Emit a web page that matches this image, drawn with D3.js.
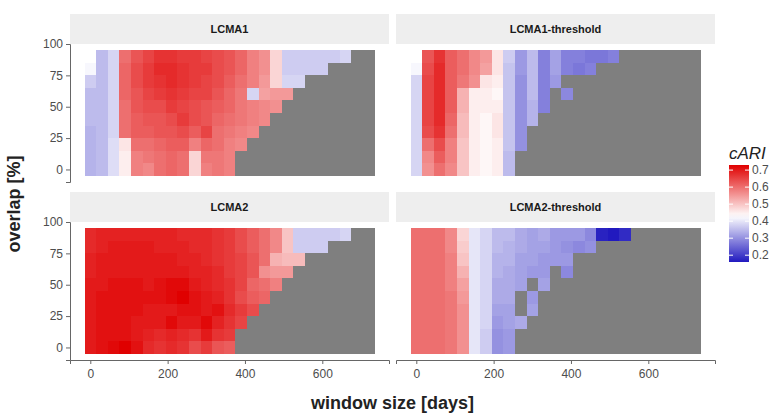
<!DOCTYPE html>
<html>
<head>
<meta charset="utf-8">
<script src="https://cdn.jsdelivr.net/npm/d3@7"></script>
<style>
  body { margin: 0; background: #fff; }
  svg { font-family: "Liberation Sans", Arial, sans-serif; }
</style>
</head>
<body>
<div id="chart"></div>
<script>
const N = null; // missing value, drawn grey

// window sizes (days) and overlaps (%), rows listed from overlap 90 down to 0
const windowSizes = [0, 30, 60, 90, 120, 150, 180, 210, 240, 270, 300, 330, 360, 390, 420, 450, 480, 510, 540, 570, 600, 630, 660, 690, 720];
const overlaps = [90, 80, 70, 60, 50, 40, 30, 20, 10, 0];
const panelNames = ["LCMA1", "LCMA1-threshold", "LCMA2", "LCMA2-threshold"];
const xTicks = [0, 200, 400, 600];
const yTicks = [0, 25, 50, 75, 100];
const legendTicks = [0.2, 0.3, 0.4, 0.5, 0.6, 0.7];

const lcma1 = [
  [.43,.35,.38,.60,.63,.65,.67,.67,.66,.66,.65,.64,.63,.61,.58,.56,.48,.37,.37,.37,.37,.37,.38,N,N],
  [.42,.35,.38,.61,.64,.66,.68,.68,.67,.66,.66,.64,.63,.61,.58,.56,.48,.37,.37,.37,.37,N,N,N,N],
  [.37,.35,.38,.61,.64,.66,.67,.68,.67,.66,.65,.64,.62,.60,.58,.55,.48,.38,.38,N,N,N,N,N,N],
  [.35,.35,.38,.61,.63,.65,.66,.67,.66,.65,.65,.63,.61,.59,.38,.54,.55,.55,N,N,N,N,N,N,N],
  [.35,.35,.38,.60,.63,.64,.64,.66,.65,.64,.63,.62,.61,.59,.58,.57,.56,N,N,N,N,N,N,N,N],
  [.35,.35,.38,.60,.62,.63,.63,.64,.66,.64,.63,.61,.60,.59,.58,.57,N,N,N,N,N,N,N,N,N],
  [.34,.35,.38,.60,.62,.62,.63,.63,.64,.62,.65,.60,.59,.58,.57,N,N,N,N,N,N,N,N,N,N],
  [.34,.35,.39,.46,.60,.60,.61,.62,.62,.58,.61,.60,.58,.57,N,N,N,N,N,N,N,N,N,N,N],
  [.34,.35,.39,.45,.58,.59,.60,.61,.60,.48,.59,.59,.58,N,N,N,N,N,N,N,N,N,N,N,N],
  [.34,.35,.39,.45,.58,.57,.60,.61,.60,.48,.58,.59,.58,N,N,N,N,N,N,N,N,N,N,N,N]
];

const lcma1Threshold = [
  [.43,.63,.67,.62,.60,.57,.55,.46,.37,.31,.35,.28,.32,.28,.28,.27,.27,.28,N,N,N,N,N,N,N],
  [.42,.64,.68,.62,.60,.57,.54,.46,.36,.31,.35,.28,.32,.28,.27,.28,N,N,N,N,N,N,N,N,N],
  [.38,.65,.68,.62,.59,.56,.46,.45,.36,.30,.35,.28,.31,N,N,N,N,N,N,N,N,N,N,N,N],
  [.38,.65,.68,.62,.52,.45,.45,.44,.36,.30,.35,.28,N,.29,N,N,N,N,N,N,N,N,N,N,N],
  [.38,.65,.68,.62,.52,.45,.45,.45,.36,.30,.34,.28,N,N,N,N,N,N,N,N,N,N,N,N,N],
  [.38,.65,.68,.61,.51,.45,.44,.46,.36,.30,.34,N,N,N,N,N,N,N,N,N,N,N,N,N,N],
  [.38,.64,.67,.60,.51,.45,.44,.46,.36,.30,N,N,N,N,N,N,N,N,N,N,N,N,N,N,N],
  [.38,.60,.64,.58,.50,.45,.44,.45,.36,.30,N,N,N,N,N,N,N,N,N,N,N,N,N,N,N],
  [.38,.57,.62,.58,.50,.45,.44,.45,.35,N,N,N,N,N,N,N,N,N,N,N,N,N,N,N,N],
  [.38,.56,.60,.57,.50,.45,.44,.45,.35,N,N,N,N,N,N,N,N,N,N,N,N,N,N,N,N]
];

const lcma2 = [
  [.68,.69,.69,.69,.69,.69,.69,.69,.68,.68,.68,.67,.66,.64,.62,.60,.57,.50,.37,.37,.37,.37,.38,N,N],
  [.68,.69,.70,.70,.70,.70,.69,.69,.69,.68,.68,.67,.66,.64,.62,.60,.57,.50,.37,.37,.37,N,N,N,N],
  [.69,.70,.70,.70,.70,.70,.70,.70,.69,.69,.68,.67,.66,.65,.63,.60,.52,.51,.51,N,N,N,N,N,N],
  [.69,.70,.70,.70,.70,.70,.70,.70,.70,.69,.69,.68,.66,.65,.63,.56,.55,.55,N,N,N,N,N,N,N],
  [.70,.70,.71,.71,.71,.70,.71,.72,.72,.70,.69,.68,.67,.65,.61,.60,.58,N,N,N,N,N,N,N,N],
  [.70,.71,.71,.71,.71,.71,.71,.72,.73,.71,.70,.69,.67,.64,.62,.61,N,N,N,N,N,N,N,N,N],
  [.70,.71,.71,.71,.71,.70,.70,.70,.71,.71,.70,.71,.68,.66,.64,N,N,N,N,N,N,N,N,N,N],
  [.70,.71,.71,.71,.70,.70,.70,.72,.70,.70,.72,.69,.67,.65,N,N,N,N,N,N,N,N,N,N,N],
  [.70,.71,.71,.71,.70,.69,.68,.69,.68,.67,.70,.67,.66,N,N,N,N,N,N,N,N,N,N,N,N],
  [.70,.71,.72,.73,.71,.68,.67,.68,.67,.64,.66,.63,.62,N,N,N,N,N,N,N,N,N,N,N,N]
];

const lcma2Threshold = [
  [.60,.60,.60,.57,.48,.40,.38,.35,.35,.33,.32,.33,.31,.31,.31,.29,.17,.16,.18,N,N,N,N,N,N],
  [.60,.60,.60,.57,.49,.40,.38,.35,.34,.33,.32,.32,.31,.30,.29,.30,N,N,N,N,N,N,N,N,N],
  [.60,.60,.60,.58,.50,.40,.38,.34,.34,.32,.32,.31,.31,.31,N,N,N,N,N,N,N,N,N,N,N],
  [.60,.60,.60,.58,.52,.40,.38,.34,.33,.32,.31,.31,N,.29,N,N,N,N,N,N,N,N,N,N,N],
  [.60,.60,.60,.58,.54,.40,.38,.33,.33,.32,N,.32,N,N,N,N,N,N,N,N,N,N,N,N,N],
  [.60,.60,.60,.59,.55,.40,.38,.33,.33,N,.31,N,N,N,N,N,N,N,N,N,N,N,N,N,N],
  [.60,.60,.60,.59,.56,.40,.38,.32,.32,N,.32,N,N,N,N,N,N,N,N,N,N,N,N,N,N],
  [.60,.60,.60,.59,.56,.40,.38,.31,.32,.33,N,N,N,N,N,N,N,N,N,N,N,N,N,N,N],
  [.60,.60,.60,.59,.56,.40,.37,.30,.31,N,N,N,N,N,N,N,N,N,N,N,N,N,N,N,N],
  [.60,.60,.60,.59,.56,.40,.37,.30,.31,N,N,N,N,N,N,N,N,N,N,N,N,N,N,N,N]
];

const panelData = [lcma1, lcma1Threshold, lcma2, lcma2Threshold];

// layout
const width = 779, height = 414;
const panelW = 319, panelH = 138, stripH = 30;
const panelX = [70, 396], panelY = [44, 222];

const svg = d3.select("#chart").append("svg")
  .attr("width", width)
  .attr("height", height);

// scales shared by all panels (ggplot adds 5% expansion)
const x = d3.scaleLinear().domain([-52.5, 772.5]).range([0, panelW]);
const y = d3.scaleLinear().domain([-10, 100]).range([panelH, 0]);

// diverging fill: white at midpoint, to red above and blue below
const allValues = panelData.flat(2).filter(v => v != null);
const [vMin, vMax] = d3.extent(allValues);
const mid = 0.43;
const half = Math.max(vMax - mid, mid - vMin);
const toRed = d3.interpolateRgb("#ffffff", "#e00000");
const toBlue = d3.interpolateRgb("#ffffff", "#0800b8");
function fill(v) {
  if (v == null) return "#7f7f7f";
  return v >= mid ? toRed((v - mid) / half) : toBlue((mid - v) / half);
}

panelNames.forEach((name, i) => {
  const col = i % 2, row = Math.floor(i / 2);
  const g = svg.append("g")
    .attr("transform", `translate(${panelX[col]},${panelY[row]})`);

  // strip
  g.append("rect")
    .attr("x", 0).attr("y", -stripH)
    .attr("width", panelW).attr("height", stripH)
    .attr("fill", "#eeeeee");
  g.append("text")
    .attr("x", panelW / 2).attr("y", -stripH / 2)
    .attr("dy", "0.35em")
    .attr("text-anchor", "middle")
    .attr("font-size", 11)
    .attr("font-weight", "bold")
    .attr("fill", "#1a1a1a")
    .text(name);

  // tiles
  const cells = [];
  panelData[i].forEach((vals, r) => {
    vals.forEach((v, k) => cells.push({ w: windowSizes[k], o: overlaps[r], v }));
  });
  g.append("g")
    .attr("shape-rendering", "crispEdges")
    .selectAll("rect")
    .data(cells)
    .enter()
    .append("rect")
    .attr("x", d => x(d.w - 15))
    .attr("y", d => y(d.o + 5))
    .attr("width", x(30) - x(0) + 0.5)
    .attr("height", y(0) - y(10) + 0.5)
    .attr("fill", d => fill(d.v));

  // y axis on left column
  if (col === 0) {
    const ay = g.append("g")
      .call(d3.axisLeft(y).tickValues(yTicks).tickSize(4).tickPadding(3));
    ay.select(".domain").attr("stroke", "#666");
    ay.selectAll(".tick line").attr("stroke", "#666");
    ay.selectAll("text").attr("font-size", 12).attr("fill", "#4d4d4d")
      .attr("font-family", "Liberation Sans, Arial, sans-serif");
  }
  // x axis on bottom row
  if (row === 1) {
    const ax = g.append("g")
      .attr("transform", `translate(0,${panelH})`)
      .call(d3.axisBottom(x).tickValues(xTicks).tickSize(4).tickPadding(5));
    ax.select(".domain").attr("stroke", "#666");
    ax.selectAll(".tick line").attr("stroke", "#666");
    ax.selectAll("text").attr("font-size", 12).attr("fill", "#4d4d4d")
      .attr("font-family", "Liberation Sans, Arial, sans-serif");
  }
});

// axis titles
svg.append("text")
  .attr("x", (panelX[0] + panelX[1] + panelW) / 2)
  .attr("y", 409)
  .attr("text-anchor", "middle")
  .attr("font-size", 18)
  .attr("font-weight", "bold")
  .attr("fill", "#222")
  .text("window size [days]");

svg.append("text")
  .attr("transform", `translate(20,${(panelY[0] + panelY[1] + panelH) / 2 + 2}) rotate(-90)`)
  .attr("text-anchor", "middle")
  .attr("font-size", 18)
  .attr("font-weight", "bold")
  .attr("fill", "#222")
  .text("overlap [%]");

// colour bar legend
const barX = 729, barW = 20, barTop = 165, barBottom = 262;
const ly = d3.scaleLinear().domain([vMin, vMax]).range([barBottom, barTop]);

svg.append("text")
  .attr("x", 729).attr("y", 159)
  .attr("font-size", 17)
  .attr("font-style", "italic")
  .attr("fill", "#222")
  .text("cARI");

const grad = svg.append("defs").append("linearGradient")
  .attr("id", "cari").attr("x1", 0).attr("y1", 1).attr("x2", 0).attr("y2", 0);
d3.range(0, 1.0001, 0.05).forEach(t => {
  grad.append("stop")
    .attr("offset", t)
    .attr("stop-color", fill(vMin + t * (vMax - vMin)));
});
svg.append("rect")
  .attr("x", barX).attr("y", barTop)
  .attr("width", barW).attr("height", barBottom - barTop)
  .attr("fill", "url(#cari)");

const lg = svg.append("g");
legendTicks.forEach(t => {
  lg.append("line")
    .attr("x1", barX).attr("x2", barX + 4)
    .attr("y1", ly(t)).attr("y2", ly(t))
    .attr("stroke", "#fff");
  lg.append("line")
    .attr("x1", barX + barW - 4).attr("x2", barX + barW)
    .attr("y1", ly(t)).attr("y2", ly(t))
    .attr("stroke", "#fff");
  lg.append("text")
    .attr("x", barX + barW + 3).attr("y", ly(t))
    .attr("dy", "0.35em")
    .attr("font-size", 12)
    .attr("fill", "#4d4d4d")
    .text(d3.format(".1f")(t));
});
</script>
</body>
</html>
